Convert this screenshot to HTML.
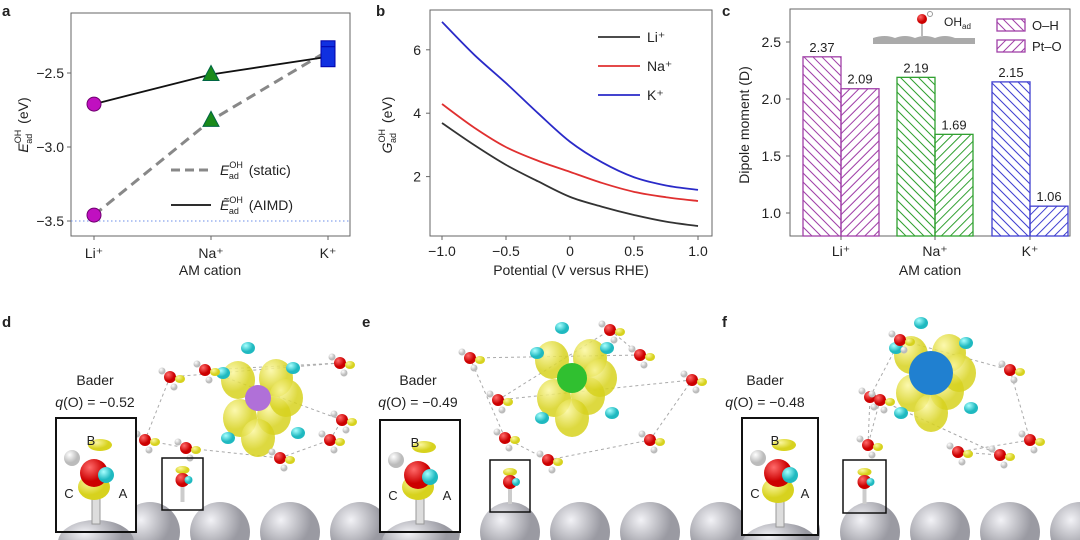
<!DOCTYPE html>
<html><head><meta charset="utf-8"><style>
html,body{margin:0;background:#fff;width:1080px;height:540px;overflow:hidden;font-family:"Liberation Sans","Noto Sans CJK SC",sans-serif}
svg{position:absolute;left:0;top:0;overflow:hidden}
text{font-family:"Liberation Sans",sans-serif;fill:#222}
</style></head><body>
<svg width="1080" height="540" viewBox="0 0 1080 540">
<defs>
<clipPath id="frameClip"><rect x="0" y="0" width="1080" height="540"/></clipPath>
<radialGradient id="gPt" cx="35%" cy="30%"><stop offset="0" stop-color="#f2f2f6"/><stop offset="1" stop-color="#9a9aa2"/></radialGradient>
<radialGradient id="gY" cx="35%" cy="30%"><stop offset="0" stop-color="#fbf7a0"/><stop offset="1" stop-color="#d7d21e"/></radialGradient>
<radialGradient id="gR" cx="35%" cy="30%"><stop offset="0" stop-color="#ff6b6b"/><stop offset="1" stop-color="#c00"/></radialGradient>
<radialGradient id="gC" cx="35%" cy="30%"><stop offset="0" stop-color="#a8ffff"/><stop offset="1" stop-color="#1fb9c0"/></radialGradient>
<radialGradient id="gW" cx="35%" cy="30%"><stop offset="0" stop-color="#fff"/><stop offset="1" stop-color="#bbb"/></radialGradient>
</defs>
<g clip-path="url(#frameClip)">
<g id="pa"></g>
<g id="pb"></g>
<g id="pc"></g>
<g id="pd"></g>
</g>
</svg>
<script>
const NS='http://www.w3.org/2000/svg';
function el(p,t,a,txt){const e=document.createElementNS(NS,t);for(const k in a)e.setAttribute(k,a[k]);if(txt!==undefined)e.textContent=txt;p.appendChild(e);return e;}

// ---------- Panel a data ----------
const aCats=['Li⁺','Na⁺','K⁺'];
const aStatic=[-3.46,-2.82,-2.35];
const aAimd=[-2.71,-2.51,-2.39];
const aTicks=[-2.5,-3.0,-3.5];
const aColors=['#c010c0','#1a8a1a','#1030e0'];

// ---------- Panel b data ----------
const bX=[-1,-0.75,-0.5,-0.25,0,0.25,0.5,0.75,1];
const bLi=[3.69,3.0,2.37,1.85,1.36,1.05,0.79,0.58,0.44];
const bNa=[4.29,3.55,2.93,2.5,2.15,1.8,1.52,1.35,1.23];
const bK=[6.88,5.85,4.95,4.0,3.1,2.45,1.98,1.72,1.58];
const bXTicks=[-1.0,-0.5,0,0.5,1.0];
const bXTickLabels=['−1.0','−0.5','0','0.5','1.0'];
const bYTicks=[2,4,6];

// ---------- Panel c data ----------
const cCats=['Li⁺','Na⁺','K⁺'];
const cOH=[2.37,2.19,2.15];
const cPtO=[2.09,1.69,1.06];
const cTicks=[1.0,1.5,2.0,2.5];

function subTitle(t,main,rest){t.innerHTML='<tspan font-style="italic">'+main+'</tspan><tspan font-size="9" dy="-7">OH</tspan><tspan font-size="9" dx="-14" dy="11">ad</tspan><tspan dx="6" dy="-4">'+rest+'</tspan>';}

// ===== Panel a =====
(function(){
 const g=document.getElementById('pa');
 const L=71,R=350,T=13,B=236;
 const y=v=>73+(v+2.5)*(-148);
 const x=i=>94+i*117;
 el(g,'text',{x:2,y:16,'font-size':15,'font-weight':'bold',fill:'#000'},'a');
 el(g,'rect',{x:L,y:T,width:R-L,height:B-T,fill:'none',stroke:'#666','stroke-width':1});
 el(g,'line',{x1:L,x2:R,y1:y(-3.5),y2:y(-3.5),stroke:'#6b8ee8','stroke-dasharray':'1.5 2.5','stroke-width':1});
 aTicks.forEach(t=>{el(g,'line',{x1:L-4,x2:L,y1:y(t),y2:y(t),stroke:'#666'});
  el(g,'text',{x:L-7,y:y(t)+5,'font-size':14,'text-anchor':'end'},t.toFixed(1).replace('-','−'));});
 aCats.forEach((c,i)=>{el(g,'line',{x1:x(i),x2:x(i),y1:B,y2:B+4,stroke:'#666'});
  el(g,'text',{x:x(i),y:B+22,'font-size':14,'text-anchor':'middle'},c);});
 el(g,'text',{x:210,y:275,'font-size':14,'text-anchor':'middle'},'AM cation');
 const yt=el(g,'text',{transform:'translate(28,125) rotate(-90)','font-size':14,'text-anchor':'middle'});
 subTitle(yt,'E',' (eV)');
 el(g,'polyline',{points:aStatic.map((v,i)=>x(i)+','+y(v)).join(' '),fill:'none',stroke:'#888','stroke-width':3,'stroke-dasharray':'10 6'});
 el(g,'polyline',{points:aAimd.map((v,i)=>x(i)+','+y(v)).join(' '),fill:'none',stroke:'#111','stroke-width':1.8});
 function marker(i,v,nm){let m;
  if(i==0)m=el(g,'circle',{cx:x(i),cy:y(v),r:7,fill:aColors[0],stroke:'#700070'});
  else if(i==1)m=el(g,'polygon',{points:`${x(i)},${y(v)-9} ${x(i)-8},${y(v)+6} ${x(i)+8},${y(v)+6}`,fill:aColors[1],stroke:'#064'});
  else m=el(g,'rect',{x:x(i)-7,y:y(v)-10,width:14,height:20,fill:aColors[2],stroke:'#00a'});
  }
 aStatic.forEach((v,i)=>marker(i,v,'static-point'));
 aAimd.forEach((v,i)=>marker(i,v,'aimd-point'));
 el(g,'line',{x1:171,x2:211,y1:170,y2:170,stroke:'#888','stroke-width':3,'stroke-dasharray':'9 5'});
 const l1=el(g,'text',{x:220,y:175,'font-size':14});subTitle(l1,'E',' (static)');
 el(g,'line',{x1:171,x2:211,y1:205,y2:205,stroke:'#111','stroke-width':1.8});
 const l2=el(g,'text',{x:220,y:210,'font-size':14});subTitle(l2,'Ẽ',' (AIMD)');
})();

// ===== Panel b =====
(function(){
 const g=document.getElementById('pb');
 const L=430,R=712,T=10,B=236;
 const x=v=>570+v*128;
 const y=v=>240-v*31.7;
 el(g,'text',{x:376,y:16,'font-size':15,'font-weight':'bold',fill:'#000'},'b');
 el(g,'rect',{x:L,y:T,width:R-L,height:B-T,fill:'none',stroke:'#666'});
 bXTicks.forEach((t,i)=>{el(g,'line',{x1:x(t),x2:x(t),y1:B,y2:B+4,stroke:'#666'});
  el(g,'text',{x:x(t),y:B+20,'font-size':14,'text-anchor':'middle'},bXTickLabels[i]);});
 bYTicks.forEach(t=>{el(g,'line',{x1:L-4,x2:L,y1:y(t),y2:y(t),stroke:'#666'});
  el(g,'text',{x:L-9,y:y(t)+5,'font-size':14,'text-anchor':'end'},t);});
 el(g,'text',{x:571,y:275,'font-size':14,'text-anchor':'middle'},'Potential (V versus RHE)');
 const yt=el(g,'text',{transform:'translate(392,125) rotate(-90)','font-size':14,'text-anchor':'middle'});
 subTitle(yt,'G',' (eV)');
 [[bLi,'#333','li-curve'],[bNa,'#e03030','na-curve'],[bK,'#2a2ac8','k-curve']].forEach(([d,c,n])=>{
  const P=d.map((v,i)=>[x(bX[i]),y(v)]);
  let p='M'+P[0][0]+','+P[0][1];
  for(let i=0;i<P.length-1;i++){const p0=P[Math.max(0,i-1)],p1=P[i],p2=P[i+1],p3=P[Math.min(P.length-1,i+2)];
   const c1=[p1[0]+(p2[0]-p0[0])/6,p1[1]+(p2[1]-p0[1])/6],c2=[p2[0]-(p3[0]-p1[0])/6,p2[1]-(p3[1]-p1[1])/6];
   p+=` C${c1[0]},${c1[1]} ${c2[0]},${c2[1]} ${p2[0]},${p2[1]}`;}
  el(g,'path',{d:p,fill:'none',stroke:c,'stroke-width':1.8});});
 [['Li⁺','#333',37],['Na⁺','#e03030',66],['K⁺','#2a2ac8',95]].forEach(([t,c,yy])=>{
  el(g,'line',{x1:598,x2:640,y1:yy,y2:yy,stroke:c,'stroke-width':1.8});
  el(g,'text',{x:647,y:yy+5,'font-size':14},t);});
})();

// ===== Panel c =====
(function(){
 const g=document.getElementById('pc');
 const L=790,R=1070,T=9,B=236;
 const y=v=>213-(v-1)*114;
 const cols=['#a040a8','#30a030','#4040d0'];
 const gx=[803,897,992],bw=38;
 el(g,'text',{x:722,y:16,'font-size':15,'font-weight':'bold',fill:'#000'},'c');
 el(g,'rect',{x:L,y:T,width:R-L,height:B-T,fill:'none',stroke:'#666'});
 cTicks.forEach(t=>{el(g,'line',{x1:L-4,x2:L,y1:y(t),y2:y(t),stroke:'#666'});
  el(g,'text',{x:L-9,y:y(t)+5,'font-size':14,'text-anchor':'end'},t.toFixed(1));});
 el(g,'text',{transform:'translate(749,125) rotate(-90)','font-size':14,'text-anchor':'middle'},'Dipole moment (D)');
 el(g,'text',{x:930,y:275,'font-size':14,'text-anchor':'middle'},'AM cation');
 function hatch(x0,y0,w,h,c,dir){const cl='cl'+Math.round(x0)+'_'+Math.round(y0)+dir;
  const cp=el(g,'clipPath',{id:cl});el(cp,'rect',{x:x0,y:y0,width:w,height:h});
  const hg=el(g,'g',{'clip-path':`url(#${cl})`});
  for(let k=-h;k<w+h;k+=9){ if(dir>0)el(hg,'line',{x1:x0+k,y1:y0,x2:x0+k+h,y2:y0+h,stroke:c,'stroke-width':1});
   else el(hg,'line',{x1:x0+k,y1:y0+h,x2:x0+k+h,y2:y0,stroke:c,'stroke-width':1});}
  el(g,'rect',{x:x0,y:y0,width:w,height:h,fill:'none',stroke:c,'stroke-width':1.3});}
 cCats.forEach((cat,i)=>{
  hatch(gx[i],y(cOH[i]),bw,B-y(cOH[i]),cols[i],1);
  
  hatch(gx[i]+bw,y(cPtO[i]),bw,B-y(cPtO[i]),cols[i],-1);
  
  el(g,'text',{x:gx[i]+bw/2,y:y(cOH[i])-5,'font-size':13,'text-anchor':'middle'},cOH[i].toFixed(2));
  el(g,'text',{x:gx[i]+bw*1.5,y:y(cPtO[i])-5,'font-size':13,'text-anchor':'middle'},cPtO[i].toFixed(2));
  el(g,'line',{x1:gx[i]+bw,x2:gx[i]+bw,y1:B,y2:B+4,stroke:'#666'});
  el(g,'text',{x:gx[i]+bw,y:B+20,'font-size':14,'text-anchor':'middle'},cat);});
 hatch(997,19,28,12,'#a040a8',1);
 el(g,'text',{x:1032,y:30,'font-size':13},'O–H');
 hatch(997,40,28,12,'#a040a8',-1);
 el(g,'text',{x:1032,y:51,'font-size':13},'Pt–O');
 el(g,'path',{d:'M873,38 Q885,34 895,38 Q905,34 915,38 Q925,34 935,38 Q945,34 955,38 L975,38 L975,44 L873,44Z',fill:'#aaa'});
 el(g,'rect',{x:921,y:22,width:2,height:14,fill:'#bbb'});
 el(g,'circle',{cx:922,cy:19,r:5,fill:'url(#gR)'});
 el(g,'circle',{cx:930,cy:14,r:2.5,fill:'#fff',stroke:'#999'});
 const oh=el(g,'text',{x:944,y:26,'font-size':12});
 oh.innerHTML='OH<tspan font-size="8" dy="3">ad</tspan>';
})();

// ===== Bottom structure panels =====
(function(){
 const g=document.getElementById('pd');
 const panels=[
  {lab:'d',lx:2,ion:[258,398],ir:13,ic:'#b070d8',box:[56,418,80,114],sb:[162,458,41,52],bx:95,q:'−0.52',off:0,
   mols:[[170,377],[145,440],[186,448],[280,458],[330,440],[342,420],[205,370],[340,363]]},
  {lab:'e',lx:362,ion:[572,378],ir:15,ic:'#30c030',box:[380,420,80,112],sb:[490,460,40,52],bx:418,q:'−0.49',off:360,
   mols:[[470,358],[505,438],[548,460],[650,440],[692,380],[498,400],[610,330],[640,355]]},
  {lab:'f',lx:722,ion:[931,373],ir:22,ic:'#2080d0',box:[742,418,76,117],sb:[843,460,43,53],bx:765,q:'−0.48',off:720,
   mols:[[868,445],[870,397],[900,340],[1010,370],[1030,440],[958,452],[1000,455],[880,400]]}];
 panels.forEach(p=>{
  el(g,'text',{x:p.lx,y:327,'font-size':15,'font-weight':'bold',fill:'#000'},p.lab);
  for(let k=0;k<5;k++){el(g,'circle',{cx:p.off+150+k*70,cy:532,r:30,fill:'url(#gPt)'});}
  for(let i=0;i<p.mols.length;i++){const a=p.mols[i],b=p.mols[(i+1)%p.mols.length];
   el(g,'line',{x1:a[0],y1:a[1],x2:b[0],y2:b[1],stroke:'#aaa','stroke-dasharray':'3 3'});}
  const [ix,iy]=p.ion;
  [[-20,-18],[18,-20],[-18,20],[16,18],[0,40],[28,0]].forEach(([dx,dy])=>el(g,'ellipse',{cx:ix+dx,cy:iy+dy,rx:17,ry:19,fill:'url(#gY)',opacity:0.85}));
  [[-35,-25],[35,-30],[-30,40],[40,35],[-10,-50]].forEach(([dx,dy])=>el(g,'ellipse',{cx:ix+dx,cy:iy+dy,rx:7,ry:6,fill:'url(#gC)'}));
  el(g,'circle',{cx:ix,cy:iy,r:p.ir,fill:p.ic});
  p.mols.forEach(([mx,my])=>{el(g,'circle',{cx:mx,cy:my,r:6,fill:'url(#gR)'});
   el(g,'circle',{cx:mx-8,cy:my-6,r:3.5,fill:'url(#gW)'});el(g,'circle',{cx:mx+4,cy:my+10,r:3.5,fill:'url(#gW)'});
   el(g,'ellipse',{cx:mx+10,cy:my+2,rx:5,ry:4,fill:'url(#gY)'});});
  const [sx,sy,sw,sh]=p.sb;
  el(g,'rect',{x:sx+sw/2-2,y:sy+28,width:4,height:16,fill:'#ccc'});
  el(g,'ellipse',{cx:sx+sw/2,cy:sy+12,rx:7,ry:4,fill:'url(#gY)'});
  el(g,'circle',{cx:sx+sw/2,cy:sy+22,r:7,fill:'url(#gR)'});
  el(g,'circle',{cx:sx+sw/2+6,cy:sy+22,r:4,fill:'url(#gC)'});
  el(g,'rect',{x:sx,y:sy,width:sw,height:sh,fill:'none',stroke:'#111','stroke-width':1.5});
  const [bx,by,bw,bh]=p.box;
  el(g,'rect',{x:bx,y:by,width:bw,height:bh,fill:'#fff'});
  el(g,'ellipse',{cx:bx+bw/2,cy:by+bh+10,rx:38,ry:22,fill:'url(#gPt)'});
  el(g,'rect',{x:bx+bw/2-4,y:by+bh-42,width:8,height:34,fill:'#ddd',stroke:'#999'});
  el(g,'ellipse',{cx:bx+bw/2-2,cy:by+bh-45,rx:16,ry:13,fill:'url(#gY)'});
  el(g,'ellipse',{cx:bx+bw/2+4,cy:by+27,rx:12,ry:6,fill:'url(#gY)'});
  el(g,'circle',{cx:bx+bw/2-2,cy:by+55,r:14,fill:'url(#gR)'});
  el(g,'circle',{cx:bx+bw/2+10,cy:by+57,r:8,fill:'url(#gC)'});
  el(g,'circle',{cx:bx+16,cy:by+40,r:8,fill:'url(#gW)'});
  el(g,'text',{x:bx+bw/2-5,y:by+27,'font-size':13,'text-anchor':'middle'},'B');
  el(g,'text',{x:bx+13,y:by+80,'font-size':13,'text-anchor':'middle'},'C');
  el(g,'text',{x:bx+bw-13,y:by+80,'font-size':13,'text-anchor':'middle'},'A');
  el(g,'rect',{x:bx,y:by,width:bw,height:Math.min(bh,539-by),fill:'none',stroke:'#111','stroke-width':2});
  el(g,'text',{x:p.bx,y:385,'font-size':14,'text-anchor':'middle'},'Bader');
  const q=el(g,'text',{x:p.bx,y:407,'font-size':14,'text-anchor':'middle'});
  q.innerHTML='<tspan font-style="italic">q</tspan>(O) = '+p.q;
 });
})();
</script>
</body></html>
